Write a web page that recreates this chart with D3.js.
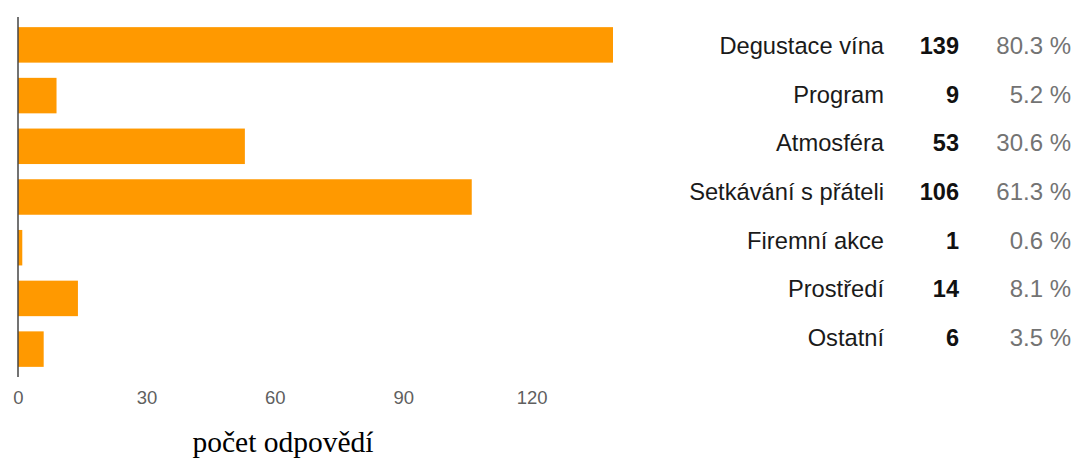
<!DOCTYPE html>
<html>
<head>
<meta charset="utf-8">
<script src="https://cdn.jsdelivr.net/npm/d3@7"></script>
<style>
  html, body { margin: 0; padding: 0; background: #fff; }
  svg { display: block; }
</style>
</head>
<body>
<svg id="chart" width="1073" height="458"></svg>
<script>
// Survey answers: category, count of responses, share of respondents
const categories = ["Degustace vína", "Program", "Atmosféra", "Setkávání s přáteli", "Firemní akce", "Prostředí", "Ostatní"];
const counts = [139, 9, 53, 106, 1, 14, 6];
const percents = ["80.3 %", "5.2 %", "30.6 %", "61.3 %", "0.6 %", "8.1 %", "3.5 %"];
const tickValues = [0, 30, 60, 90, 120];
const axisTitle = "počet odpovědí";

const svg = d3.select("#chart");
const rows = categories.map((c, i) => ({ category: c, count: counts[i], percent: percents[i] }));

const x = d3.scaleLinear().domain([0, 139]).range([18, 613]);
const y = d3.scaleBand().domain(categories).range([17, 377]).paddingInner(0.3).paddingOuter(0.2);

// bars
svg.append("g").selectAll("rect")
  .data(rows)
  .join("rect")
  .attr("x", x(0))
  .attr("y", d => y(d.category))
  .attr("width", d => x(d.count) - x(0))
  .attr("height", y.bandwidth())
  .attr("fill", "#ff9900");

// value axis: labels only, no domain line or tick marks
const xAxis = svg.append("g")
  .attr("transform", "translate(0,386)")
  .call(d3.axisBottom(x).tickValues(tickValues).tickSize(0).tickPadding(0));
xAxis.select(".domain").remove();
xAxis.selectAll("text")
  .attr("dy", "0.71em")
  .attr("y", 5)
  .attr("fill", "#5f5f5f")
  .attr("font-family", "Arial, 'Liberation Sans', sans-serif")
  .attr("font-size", 18.5);

// category baseline
svg.append("line")
  .attr("x1", x(0)).attr("x2", x(0))
  .attr("y1", 17).attr("y2", 377)
  .attr("stroke", "#444")
  .attr("stroke-width", 1.5);

// axis title
svg.append("text")
  .attr("x", 283)
  .attr("y", 452)
  .attr("text-anchor", "middle")
  .attr("font-family", "'Liberation Serif', 'Times New Roman', serif")
  .attr("font-size", 29.5)
  .attr("fill", "#000")
  .text(axisTitle);

// summary table at the right
const rowY = d3.scalePoint().domain(categories).range([54, 346]);
const table = svg.append("g")
  .attr("font-family", "Arial, 'Liberation Sans', sans-serif")
  .attr("text-anchor", "end");

const tr = table.selectAll("g").data(rows).join("g")
  .attr("transform", d => `translate(0,${rowY(d.category)})`);

tr.append("text").attr("x", 884).attr("font-size", 23.7).attr("fill", "#1a1a1a").text(d => d.category);
tr.append("text").attr("x", 959).attr("font-size", 23.5).attr("fill", "#111").attr("font-weight", "bold").text(d => d.count);
tr.append("text").attr("x", 1071).attr("font-size", 24).attr("fill", "#737373").text(d => d.percent);
</script>
</body>
</html>
